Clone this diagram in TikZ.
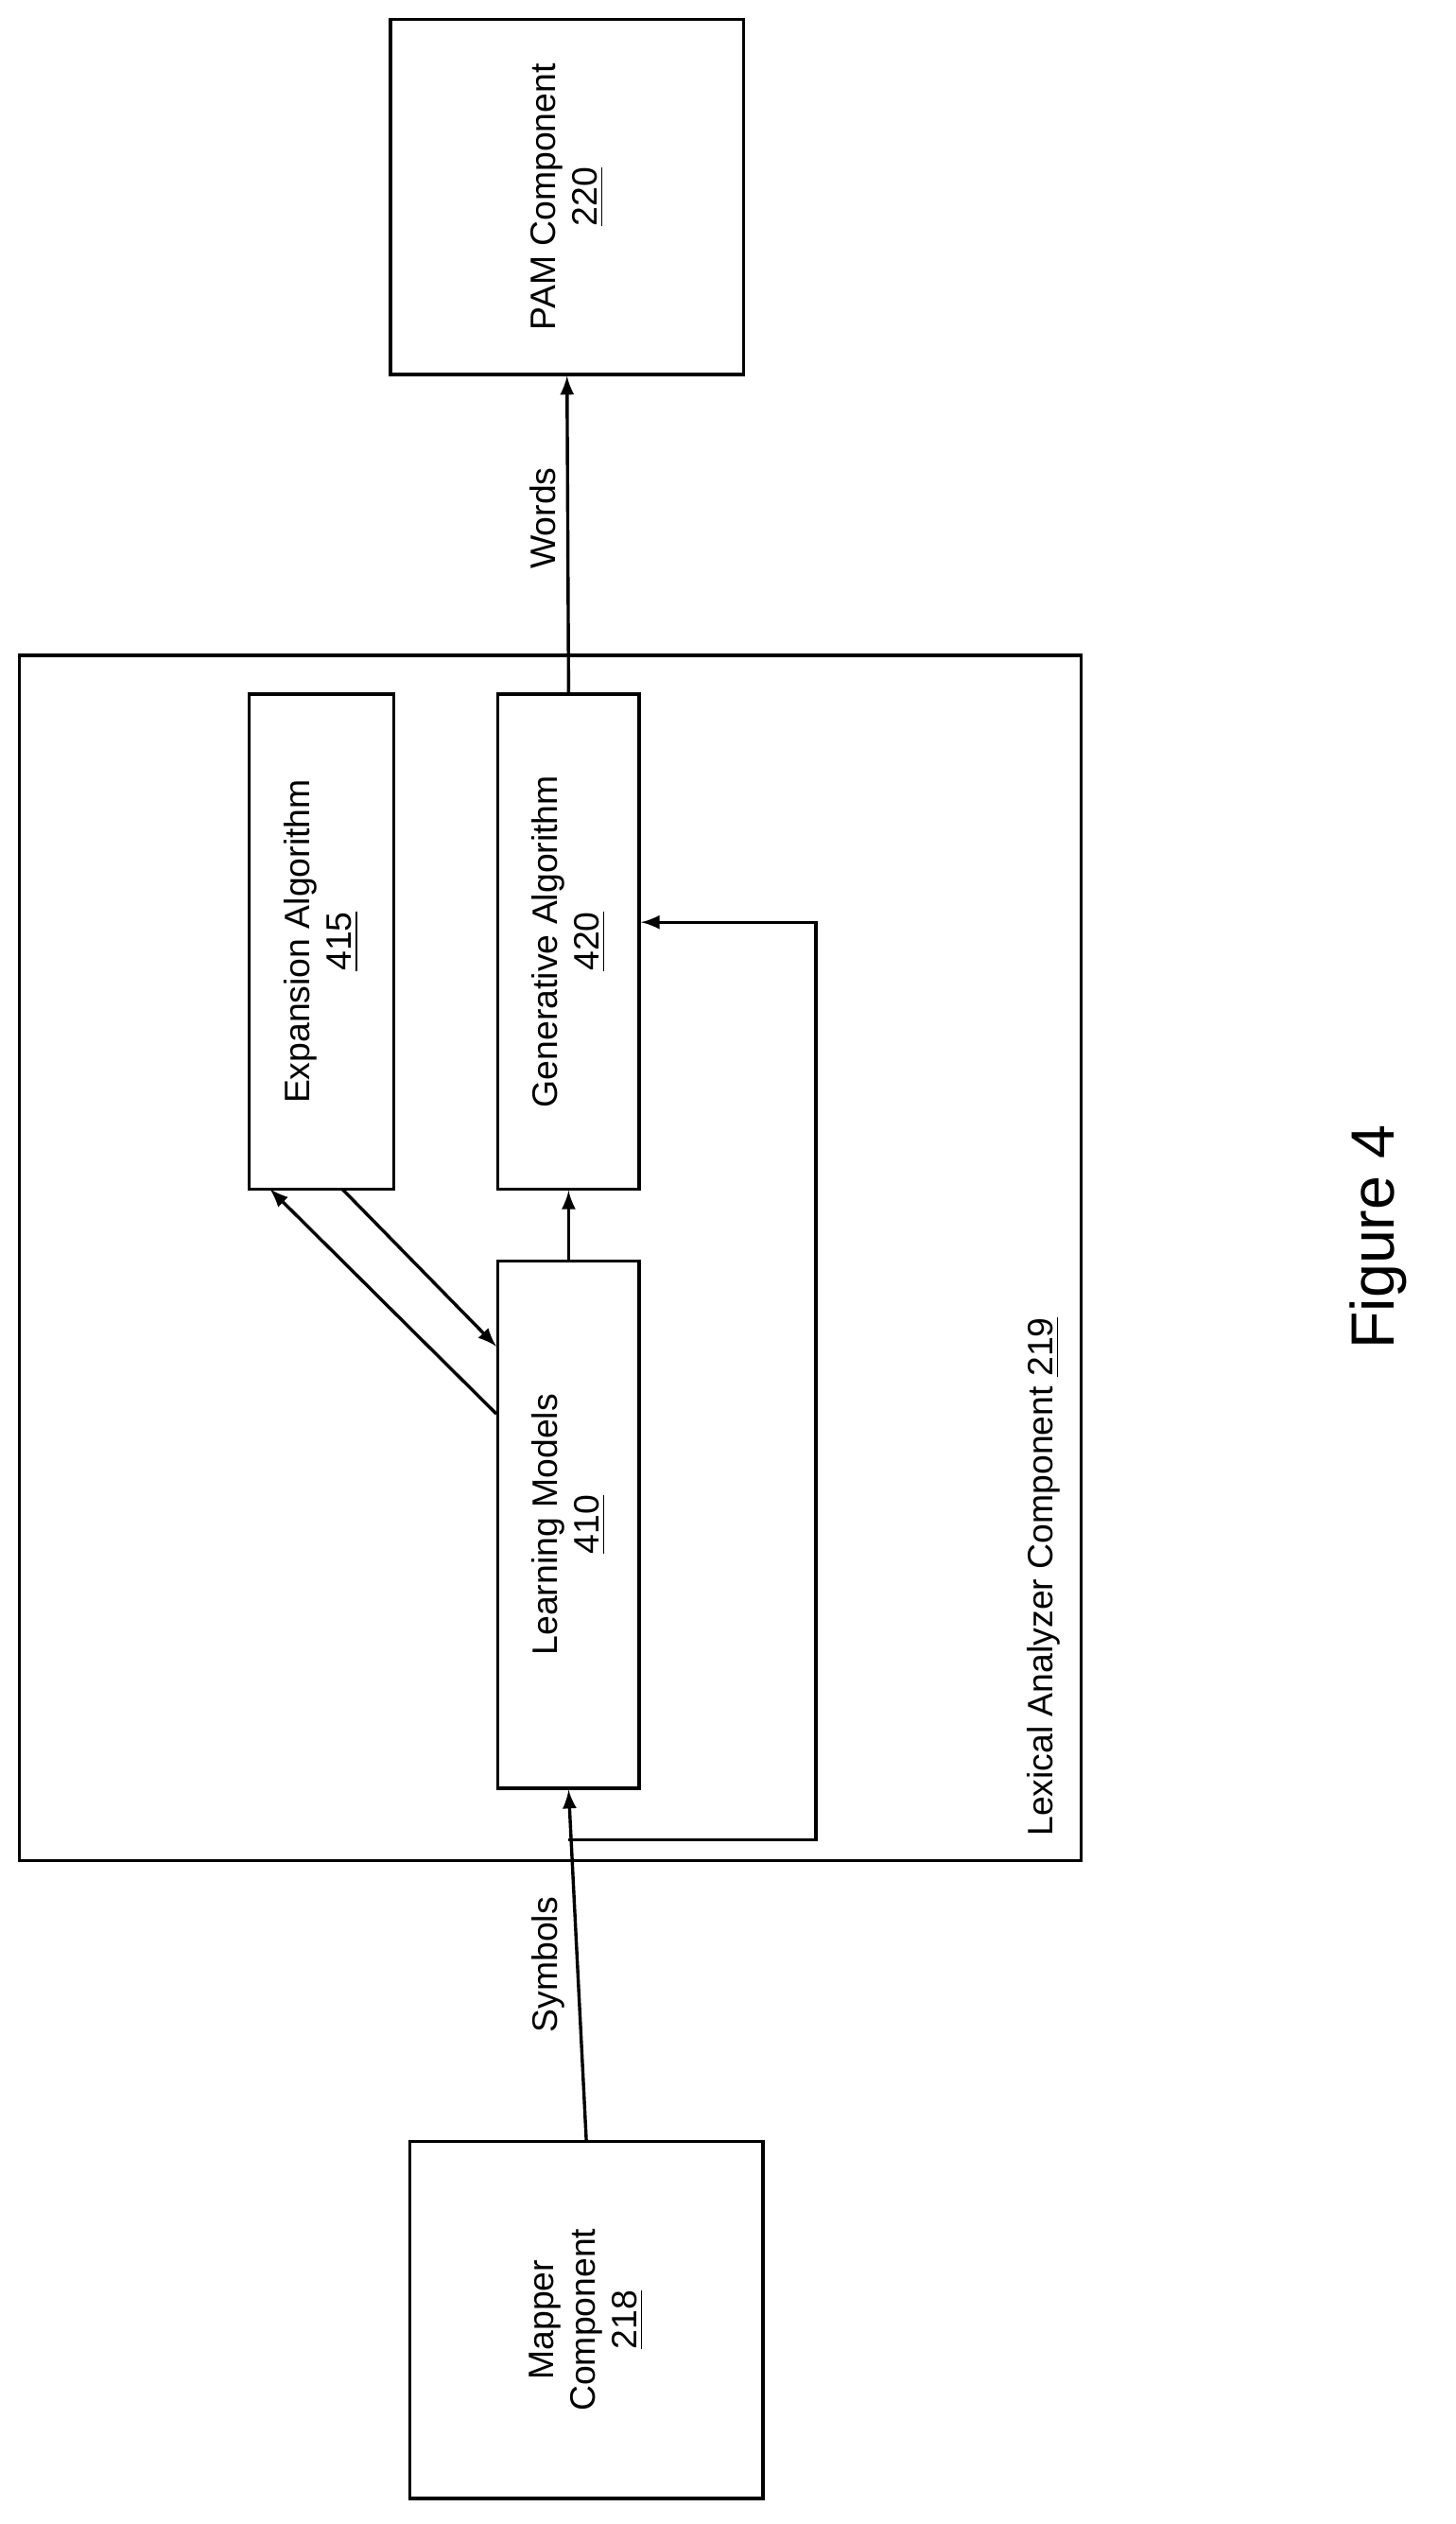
\documentclass[tikz,border=0pt]{standalone}
\usepackage{fontspec}
\setmainfont{Liberation Sans}
\usetikzlibrary{positioning}
\begin{document}
\begin{tikzpicture}[
    x=0.5pt, y=-0.5pt,
    box/.style={rectangle, draw=black, line width=1pt, inner sep=0pt},
    lbl/.style={rotate=90, align=center, font=\fontsize{11}{13}\selectfont},
    arrow/.style={->, >=latex, line width=1pt}
]
\useasboundingbox (0,0) rectangle (906,1571);

% Outer component
\node [box, minimum width=330.5pt, minimum height=375pt] (lexical) at (342.5,783) {};
\node [lbl, anchor=south west] (lexlbl) at (667,1150) {Lexical Analyzer Component \underline{219}};

% Outside boxes
\node [box, minimum width=110pt, minimum height=110.5pt] (pam) at (353,122.5) {};
\node [lbl] at (pam) {PAM Component\\\underline{220}};
\node [box, minimum width=110pt, minimum height=111pt] (mapper) at (365,1444) {};
\node [lbl] at (mapper) {Mapper\\Component\\\underline{218}};

% Inner boxes
\node [box, minimum width=45pt, minimum height=154pt] (expansion) at (200,586) {};
\node [lbl] at (expansion) {Expansion Algorithm\\\underline{415}};
\node [box, minimum width=44pt, minimum height=154pt] (generative) at (354,586) {};
\node [lbl] at (generative) {Generative Algorithm\\\underline{420}};
\node [box, minimum width=44pt, minimum height=164pt] (learning) at (354,949) {};
\node [lbl] at (learning) {Learning Models\\\underline{410}};

% Loop corners
\coordinate (loopa) at (354,1145);
\coordinate (loopb) at (508,1145);
\coordinate (loopc) at (508,574);

% Arrows
\draw [arrow] (mapper.north) -- node [lbl, above] {Symbols} (learning.south);
\draw [arrow] (generative.north) -- node [lbl, above, pos=0.55] {Words} (pam.south);
\draw [arrow] (learning.north) -- (generative.south);
\draw [arrow] (loopa) -- (loopb) -- (loopc) -- (generative.east |- loopc);
\draw [arrow] (learning.west |- 0,880) -- (168,740);
\draw [arrow] (213,740) -- (learning.west |- 0,838);

\node [rotate=90, font=\fontsize{19}{22}\selectfont] (fig) at (858,770) {Figure 4};
\end{tikzpicture}
\end{document}
